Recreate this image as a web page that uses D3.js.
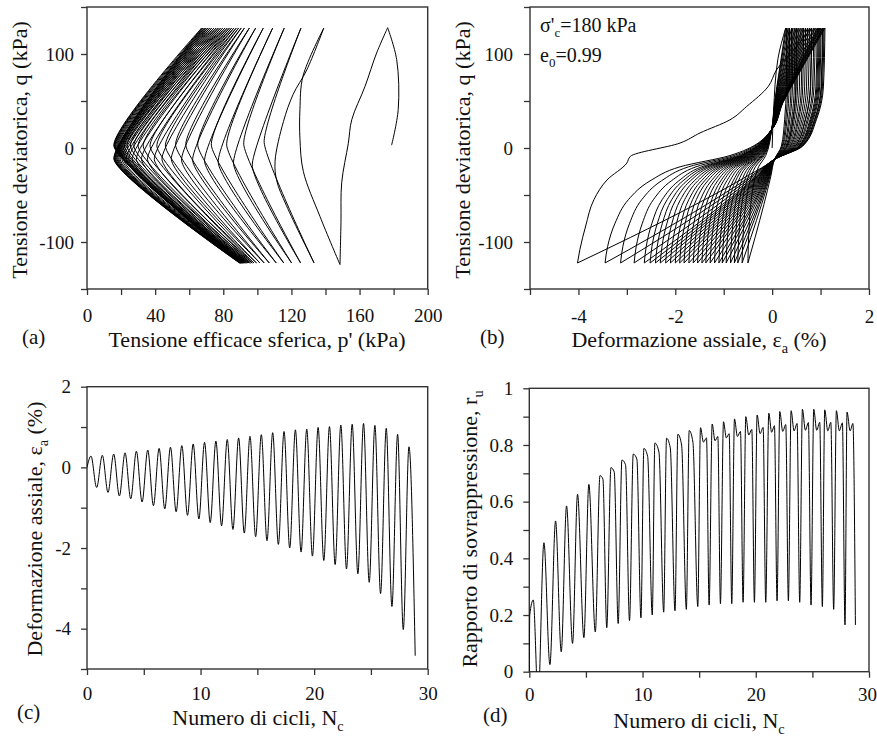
<!DOCTYPE html>
<html><head><meta charset="utf-8">
<script src="https://cdn.jsdelivr.net/npm/d3@7"></script>
<style>
body{margin:0;background:#fff}
text{font-family:"Liberation Serif","Times New Roman",serif;fill:#111}
</style>
</head><body>
<svg id="chart" width="877" height="738"></svg>
<script>
// ---------------- DATA ----------------
// Panel (c) / (b): axial strain at compression peaks (q=+127) and extension troughs (q=-122)
const strainPeakN = [0.35,1.35,2.35,3.35,4.35,5.35,6.35,7.35,8.35,9.35,10.35,11.35,12.35,13.35,14.35,15.35,16.35,17.35,18.35,19.35,20.35,21.35,22.35,23.35,24.35,25.35,26.35,27.35,28.35];
const strainPeak  = [0.28,0.30,0.33,0.36,0.40,0.43,0.47,0.50,0.54,0.58,0.62,0.65,0.69,0.73,0.77,0.81,0.86,0.89,0.93,0.95,0.99,1.01,1.05,1.07,1.09,1.04,0.97,0.82,0.51];
const strainTroughN = [0.85,1.85,2.85,3.85,4.85,5.85,6.85,7.85,8.85,9.85,10.85,11.85,12.85,13.85,14.85,15.85,16.85,17.85,18.85,19.85,20.85,21.85,22.85,23.85,24.85,25.85,26.85,27.85];
const strainTrough  = [-0.50,-0.62,-0.71,-0.78,-0.86,-0.95,-1.03,-1.10,-1.19,-1.28,-1.37,-1.45,-1.54,-1.63,-1.72,-1.82,-1.91,-2.00,-2.10,-2.20,-2.31,-2.41,-2.52,-2.64,-2.85,-3.13,-3.45,-4.02];
const strainStart = [0, 0];
const strainEnd = [28.9, -4.67];

// Panel (d): pore pressure ratio per cycle
const ruStartN = [0, 0.04];
const ruStartV = [0, 0.2];
const ruPeakN = [0.35,1.29,2.32,3.29,4.26,5.26,6.24,7.21,8.18,9.18,10.12,11.09,12.12,13.12,14.12,15.12,16.15,17.15,18.12,19.12,20.12,21.15,22.12,23.12,24.12,25.12,26.09,27.12,28.06];
const ruPeak  = [0.253,0.455,0.532,0.585,0.626,0.661,0.692,0.72,0.747,0.768,0.788,0.807,0.824,0.838,0.851,0.861,0.874,0.882,0.892,0.9,0.906,0.912,0.918,0.921,0.926,0.926,0.924,0.921,0.916];
const ruCuspN = [null,null,null,null,null,null,6.5,7.5,8.5,9.5,10.45,11.45,12.45,13.45,14.45,15.38,16.4,17.4,18.38,19.38,20.38,21.4,22.38,23.38,24.38,25.38,26.36,27.38,28.33];
const ruCusp  = [null,null,null,null,null,null,0.68,0.705,0.73,0.75,0.76,0.775,0.79,0.80,0.81,0.81,0.815,0.825,0.83,0.835,0.84,0.845,0.848,0.85,0.852,0.852,0.85,0.85,0.85];
const ruBumpN = [null,null,null,null,null,null,null,null,null,null,null,null,null,null,null,15.65,16.65,17.65,18.65,19.65,20.65,21.65,22.65,23.65,24.65,25.65,26.63,27.65,28.58];
const ruBump  = [null,null,null,null,null,null,null,null,null,null,null,null,null,null,null,0.825,0.83,0.84,0.848,0.855,0.862,0.868,0.872,0.876,0.879,0.88,0.88,0.878,0.876];
const ruMinN = [0.78,1.82,2.82,3.82,4.82,5.83,6.84,7.85,8.85,9.86,10.86,11.87,12.87,13.87,14.88,15.88,16.88,17.88,18.88,19.88,20.88,21.88,22.88,23.88,24.88,25.88,26.88,27.88,28.8];
const ruMin  = [-0.1,0.025,0.07,0.1,0.12,0.14,0.155,0.17,0.18,0.19,0.2,0.21,0.215,0.22,0.23,0.235,0.24,0.24,0.245,0.245,0.245,0.25,0.25,0.245,0.235,0.23,0.22,0.165,0.165];

// Panel (a): stress path vertices and turning points
const qTopLevel = 127.6, qBotLevel = -122.3;
const pTop = [176.5,139.0,125.6,115.8,109.0,103.5,99.0,95.3,92.4,90.5,89.0,87.6,86.2,84.9,83.6,82.3,81.0,79.7,78.4,77.1,75.8,74.5,73.2,72.0,70.9,69.9,69.0,68.1,67.3];
const pBot = [148.5,133.3,125.4,120.1,115.5,111.1,107.0,104.0,101.5,99.5,98.0,97.0,96.0,95.2,94.5,93.8,93.2,92.7,92.2,91.8,91.4,91.1,90.8,90.5,90.3,90.1,89.9,89.7,89.5];
const noseUpP = [125,104,92,82,73,65,58,52,46,41,37,33,30,27.5,25.5,23.5,22,21,20,19.2,18.5,18,17.5,17,16.6,16.3,16,15.8];
const noseUpQ = [10,6,4,3,3,3,3,3,2,2,2,2,2,2,2,2,2,2,2,2,2,2,2,2,2,2,2,2];
const noseDnP = [110.5,97,86,77,69,62,55.5,49.5,44,39.5,35.5,32,29,26.5,24.5,23,21.5,20.5,19.5,18.8,18.2,17.7,17.2,16.8,16.5,16.2,16.0,15.8];
const noseDnQ = [-20,-18,-16,-15,-14,-13,-13,-12,-12,-12,-12,-12,-12,-12,-12,-12,-12,-12,-12,-12,-12,-12,-12,-12,-12,-12,-12,-12];
const aInitP = [178.8,182.7,181.8,176.5], aInitQ = [3,41,94,128];
const aUnload0P = [176.5,170,163.2,155.4,153.4,149.5,149.1,148.5], aUnload0Q = [128,101,65.5,30,5,-37,-79,-124];
const aReload0P = [148.5,136.8,127,125,125,126.8,139], aReload0Q = [-124,-73,-25,10,41,76.5,127.6];
const aUnload1P = [139,129,121,115.3,110.4,111.4,117,133.3], aUnload1Q = [127.6,83,57,28,-14,-35,-61,-122.3];

// Panel (b): loop shape (q levels and relative strain positions) and special branches
const bConv = 0.05, bCross = -0.01;
const bUpLowQ = [-122.3,-95,-60,-30,-12], bUpLowF = [0,0.27,0.6,0.86,1];
const bUpHighQ = [2,30,65,127.6], bUpHighF = [0.56,0.83,0.97,1];
const bDnHighQ = [127.6,83,48,19.5], bDnHighF = [0,0.45,0.79,1];
const bDnLowQ = [-8,-20,-35,-55,-80,-105,-122.3], bDnLowF = [0.75,0.45,0.27,0.14,0.06,0.015,0];
const bInitE = [0,0.03,0.12,0.28], bInitQ = [0,40,95,127.6];
const bOuterE = [0.82,0.45,0.09,-0.08,-0.53,-0.87,-1.49,-1.9,-2.93,-3.0,-3.41,-3.68,-3.85,-3.97,-4.02];
const bOuterQ = [127.6,105,83,65.5,44,30,16,5.3,-9,-16,-34,-55,-83,-108,-122.3];

// Axis ticks
const aXMajor=[0,40,80,120,160,200], aXMinor=[20,60,100,140,180];
const aYMajor=[-100,0,100], aYMinor=[-150,-50,50,150];
const bXMajor=[-4,-2,0,2], bXMinor=[-5,-3,-1,1];
const bYMajor=[-100,0,100], bYMinor=[-150,-50,50,150];
const cXMajor=[0,10,20,30], cXMinor=[5,15,25];
const cYMajor=[-4,-2,0,2], cYMinor=[-5,-3,-1,1];
const dXMajor=[0,10,20,30], dXMinor=[5,15,25];
const dYMajor=[0,0.2,0.4,0.6,0.8,1], dYMinor=[0.1,0.3,0.5,0.7,0.9];

// ---------------- DRAWING ----------------
const svg = d3.select("#chart");
const zip = (a,b) => a.map((v,i)=>[v,b[i]]);

function makePanel(c){
  const x = d3.scaleLinear().domain(c.xDomain).range([c.l,c.r]);
  const y = d3.scaleLinear().domain(c.yDomain).range([c.b,c.t]);
  const g = svg.append("g");
  svg.append("clipPath").attr("id","clip"+c.id).append("rect")
    .attr("x",c.l).attr("y",c.t).attr("width",c.r-c.l).attr("height",c.b-c.t);
  const mx = new Set(c.xMajor), my = new Set(c.yMajor);
  const xa = d3.axisBottom(x).tickValues(c.xMajor.concat(c.xMinor))
    .tickFormat(d=>mx.has(d)?String(d):"").tickSizeInner(6).tickSizeOuter(0).tickPadding(c.xPad);
  const ya = d3.axisLeft(y).tickValues(c.yMajor.concat(c.yMinor))
    .tickFormat(d=>my.has(d)?String(d):"").tickSizeInner(6).tickSizeOuter(0).tickPadding(c.yPad);
  const gx = g.append("g").attr("transform",`translate(0,${c.b})`).call(xa);
  const gy = g.append("g").attr("transform",`translate(${c.l},0)`).call(ya);
  [gx,gy].forEach(a=>{
    a.select(".domain").remove();
    a.selectAll(".tick line").attr("stroke","#333").attr("stroke-width",1.3);
    a.selectAll(".tick text").attr("font-size","19px").attr("fill","#111")
      .attr("font-family","'Liberation Serif','Times New Roman',serif");
  });
  if(c.lastXShift){
    gx.selectAll(".tick text").filter(d=>d===c.xMajor[c.xMajor.length-1]).attr("dx",c.lastXShift);
  }
  g.append("rect").attr("x",c.l).attr("y",c.t).attr("width",c.r-c.l).attr("height",c.b-c.t)
    .attr("fill","none").attr("stroke","#333").attr("stroke-width",1.4);
  const plot = g.append("g").attr("clip-path",`url(#clip${c.id})`);
  return {x,y,g,plot};
}

function addText(x,y,parts,opts={}){
  const t = svg.append("text").attr("x",x).attr("y",y)
    .attr("font-size",opts.size||"22px").attr("text-anchor",opts.anchor||"middle");
  if(opts.rotate) t.attr("transform",`rotate(-90,${x},${y})`);
  const base = parseFloat(opts.size||"22px");
  parts.forEach(p=>{
    const s = t.append("tspan").text(p.t);
    if(p.sub){ s.attr("font-size",(base*0.65)+"px").attr("dy",base*0.25); }
    if(p.back){ s.attr("dy",-base*0.25); }
  });
  return t;
}

// Panel frames
const A = makePanel({id:"a",l:87,r:427.7,t:7,b:289,xDomain:[0,200],yDomain:[-150,150],
  xMajor:aXMajor,xMinor:aXMinor,yMajor:aYMajor,yMinor:aYMinor,xPad:14,yPad:7});
const B = makePanel({id:"b",l:530,r:869,t:7,b:289,xDomain:[-5,2],yDomain:[-150,150],
  xMajor:bXMajor,xMinor:bXMinor,yMajor:bYMajor,yMinor:bYMinor,xPad:15,yPad:11});
const C = makePanel({id:"c",l:87,r:427.7,t:386.7,b:669,xDomain:[0,30],yDomain:[-5,2],
  xMajor:cXMajor,xMinor:cXMinor,yMajor:cYMajor,yMinor:cYMinor,xPad:12,yPad:10});
const D = makePanel({id:"d",l:529.3,r:869,t:388.3,b:671.7,xDomain:[0,30],yDomain:[0,1],
  xMajor:dXMajor,xMinor:dXMinor,yMajor:dYMajor,yMinor:dYMinor,xPad:10,yPad:10,lastXShift:-2});

function drawPath(P,pts,curve){
  const line = d3.line().x(d=>P.x(d[0])).y(d=>P.y(d[1])).curve(curve);
  P.plot.append("path").attr("d",line(pts)).attr("fill","none")
    .attr("stroke","#000").attr("stroke-width",1).attr("stroke-linejoin","round");
}

// ---- Panel (a) ----
const cr = d3.curveCatmullRom.alpha(0.5);
const cc = d3.curveCardinal.tension(0.55);
drawPath(A, zip(aInitP,aInitQ), cr);
drawPath(A, zip(aUnload0P,aUnload0Q), cr);
drawPath(A, zip(aReload0P,aReload0Q), cr);
drawPath(A, zip(aUnload1P,aUnload1Q), cr);
for(let k=2;k<pTop.length;k++){
  drawPath(A, [[pTop[k],qTopLevel],[noseDnP[k-1],noseDnQ[k-1]],[pBot[k],qBotLevel]], cc);
}
for(let k=1;k<pTop.length-1;k++){
  drawPath(A, [[pBot[k],qBotLevel],[noseUpP[k],noseUpQ[k]],[pTop[k+1],qTopLevel]], cc);
}

// ---- Panel (b) ----
const my = d3.curveMonotoneY;
drawPath(B, zip(bInitE,bInitQ), my);
for(let k=0;k<strainTrough.length;k++){
  const eT = strainPeak[k], eB = strainTrough[k];
  if(k===strainTrough.length-1){
    drawPath(B, zip(bOuterE,bOuterQ), my);
  } else {
    const pts = [];
    bDnHighQ.forEach((q,i)=>pts.push([eT + bDnHighF[i]*(bCross-eT), q]));
    bDnLowQ.forEach((q,i)=>pts.push([eB + bDnLowF[i]*(bCross-eB), q]));
    drawPath(B, pts, my);
  }
  const eN = strainPeak[k+1];
  const up = [];
  bUpLowQ.forEach((q,i)=>up.push([eB + bUpLowF[i]*(bConv-eB), q]));
  bUpHighQ.forEach((q,i)=>up.push([bConv + bUpHighF[i]*(eN-bConv), q]));
  drawPath(B, up, my);
}

// ---- Panel (c) ----
const cPts = [strainStart];
strainPeak.forEach((v,i)=>{
  cPts.push([strainPeakN[i], v]);
  if(i<strainTrough.length) cPts.push([strainTroughN[i], strainTrough[i]]);
});
cPts.push(strainEnd);
drawPath(C, cPts, d3.curveMonotoneX);

// ---- Panel (d) ----
const dPts = zip(ruStartN, ruStartV);
ruPeak.forEach((v,i)=>{
  dPts.push([ruPeakN[i], v]);
  if(ruCusp[i]!==null) dPts.push([ruCuspN[i], ruCusp[i]]);
  if(ruBump[i]!==null) dPts.push([ruBumpN[i], ruBump[i]]);
  dPts.push([ruMinN[i], ruMin[i]]);
});
drawPath(D, dPts, d3.curveMonotoneX);

// ---- Titles ----
addText(257,347,[{t:"Tensione efficace sferica, p' (kPa)"}]);
addText(27,150,[{t:"Tensione deviatorica, q (kPa)"}],{rotate:true});
addText(22,344,[{t:"(a)"}],{anchor:"start",size:"21px"});

addText(699,347,[{t:"Deformazione assiale, ε"},{t:"a",sub:true},{t:" (%)",back:true}]);
addText(470,150,[{t:"Tensione deviatorica, q (kPa)"}],{rotate:true});
addText(480,344,[{t:"(b)"}],{anchor:"start",size:"21px"});
addText(540,32,[{t:"σ'"},{t:"c",sub:true},{t:"=180 kPa",back:true}],{anchor:"start",size:"20px"});
addText(540,62,[{t:"e"},{t:"0",sub:true},{t:"=0.99",back:true}],{anchor:"start",size:"20px"});

addText(258,725,[{t:"Numero di cicli, N"},{t:"c",sub:true}]);
addText(42,529,[{t:"Deformazione assiale, ε"},{t:"a",sub:true},{t:" (%)",back:true}],{rotate:true});
addText(17,719,[{t:"(c)"}],{anchor:"start",size:"21px"});

addText(699,728,[{t:"Numero di cicli, N"},{t:"c",sub:true}]);
addText(477,529,[{t:"Rapporto di sovrappressione, r"},{t:"u",sub:true}],{rotate:true});
addText(483,722,[{t:"(d)"}],{anchor:"start",size:"21px"});
</script>
</body></html>
